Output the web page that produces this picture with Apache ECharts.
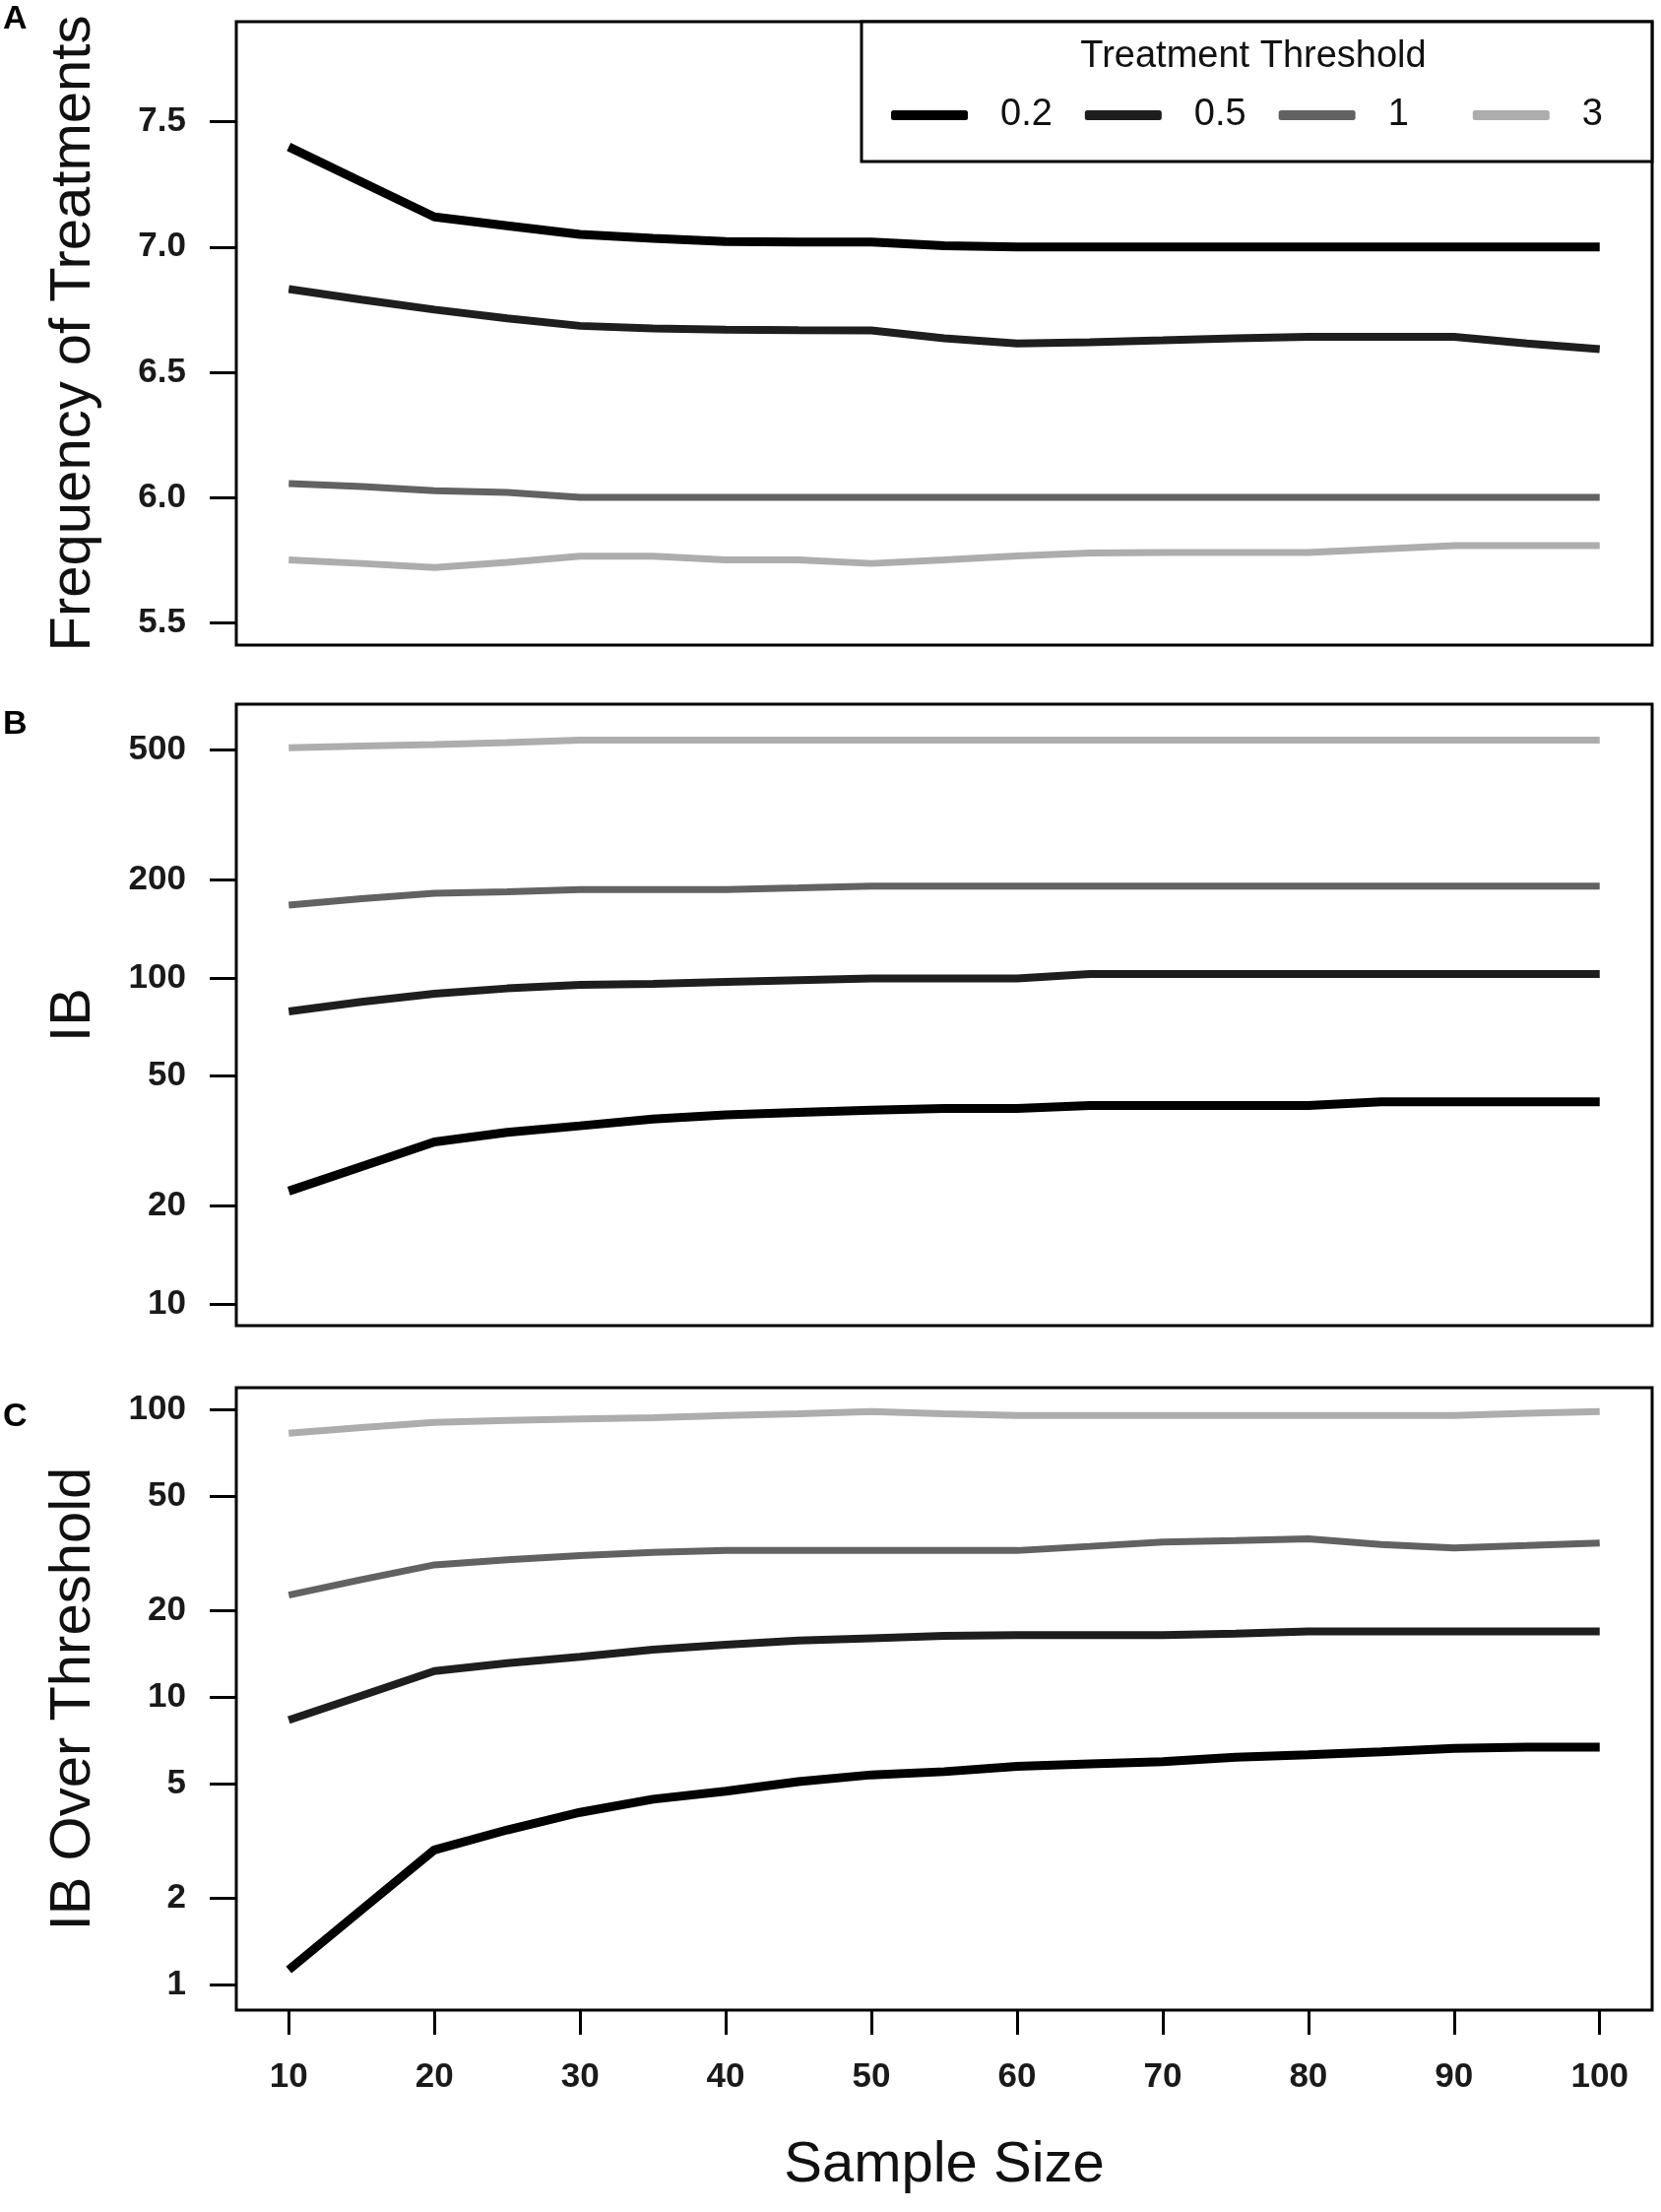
<!DOCTYPE html>
<html lang="en">
<head>
    <meta charset="UTF-8">
    <title>Treatment threshold vs sample size</title>
    <script src="https://cdn.jsdelivr.net/npm/echarts@6.0.0/dist/echarts.min.js"></script>
    <style>
        body { margin: 0; background: #fff; }
    </style>
</head>
<body>
    <div id="main" style="width: 1687px;height:2246px;"></div>
    <script type="text/javascript">
        // values, one entry per sample size
        const sampleSize = [10, 15, 20, 25, 30, 35, 40, 45, 50, 55, 60, 65, 70, 75, 80, 85, 90, 95, 100];
        const thresholds = ['0.2', '0.5', '1', '3'];

        // A: frequency of treatments
        const freq02 = [7.40, 7.26, 7.12, 7.085, 7.05, 7.035, 7.022, 7.02, 7.02, 7.005, 7.0, 7.0, 7.0, 7.0, 7.0, 7.0, 7.0, 7.0, 7.0];
        const freq05 = [6.832, 6.79, 6.75, 6.715, 6.685, 6.675, 6.67, 6.668, 6.667, 6.635, 6.615, 6.62, 6.627, 6.635, 6.641, 6.641, 6.641, 6.615, 6.592];
        const freq1 = [6.055, 6.043, 6.027, 6.02, 6.0, 6.0, 6.0, 6.0, 6.0, 6.0, 6.0, 6.0, 6.0, 6.0, 6.0, 6.0, 6.0, 6.0, 6.0];
        const freq3 = [5.75, 5.736, 5.72, 5.74, 5.765, 5.765, 5.75, 5.75, 5.736, 5.75, 5.766, 5.778, 5.78, 5.78, 5.78, 5.794, 5.807, 5.807, 5.807];

        // B: IB (log scale)
        const ib02 = [22.2, 26.4, 31.4, 33.6, 35.2, 36.9, 38.0, 38.7, 39.3, 39.8, 39.8, 40.6, 40.6, 40.6, 40.6, 41.7, 41.7, 41.7, 41.7];
        const ib05 = [79.0, 84.5, 89.5, 92.9, 95.2, 96.0, 97.3, 98.5, 99.7, 99.7, 99.7, 102.8, 102.8, 102.8, 102.8, 102.8, 102.8, 102.8, 102.8];
        const ib1 = [167.5, 175, 182, 184, 186.7, 186.7, 186.7, 189, 191.5, 191.5, 191.5, 191.5, 191.5, 191.5, 191.5, 191.5, 191.5, 191.5, 191.5];
        const ib3 = [509, 515, 520, 528, 537, 537, 537, 537, 537, 537, 537, 537, 537, 537, 537, 537, 537, 537, 537];

        // C: IB over threshold (log scale)
        const over02 = [1.125, 1.82, 2.94, 3.45, 3.97, 4.41, 4.70, 5.08, 5.36, 5.5, 5.74, 5.85, 5.96, 6.17, 6.3, 6.45, 6.62, 6.69, 6.69];
        const over05 = [8.31, 10.1, 12.3, 13.1, 13.8, 14.6, 15.2, 15.7, 16.0, 16.3, 16.4, 16.4, 16.4, 16.6, 16.9, 16.9, 16.9, 16.9, 16.9];
        const over1 = [22.6, 25.6, 28.8, 30.0, 31.0, 31.8, 32.3, 32.3, 32.3, 32.3, 32.3, 33.4, 34.6, 35.0, 35.5, 33.9, 33.0, 33.6, 34.3];
        const over3 = [82.6, 86.5, 90.1, 91.5, 92.7, 93.5, 95.3, 96.5, 98.3, 96.5, 95.3, 95.3, 95.3, 95.3, 95.3, 95.3, 95.3, 97.0, 98.3];

        // tick labels
        const xTicks = [10, 20, 30, 40, 50, 60, 70, 80, 90, 100];
        const freqTicks = [5.5, 6.0, 6.5, 7.0, 7.5];
        const ibTicks = [10, 20, 50, 100, 200, 500];
        const overTicks = [1, 2, 5, 10, 20, 50, 100];

        const font = 'Liberation Sans, Arial, sans-serif';
        const lineColors = ['#000000', '#1e1e1e', '#626262', '#adadad'];
        const lineWidths = [9, 8, 7, 7];
        // right padding so that every legend entry takes the same width
        const legendRightPad = [17, 17, 49, 49];

        let myChart = echarts.init(document.getElementById('main'));

        function panelSeries(groups, idx) {
            return groups.map((vals, k) => ({
                name: thresholds[k],
                type: 'line',
                xAxisIndex: idx,
                yAxisIndex: idx,
                data: sampleSize.map((x, i) => [x, vals[i]]),
                symbol: 'none',
                color: lineColors[k],
                itemStyle: { color: lineColors[k] },
                lineStyle: { color: lineColors[k], width: lineWidths[k] },
                animation: false
            }));
        }

        function yAxis(idx, type, min, max, ticks, name, fmt) {
            let ax = {
                type: type,
                gridIndex: idx,
                min: min,
                max: max,
                name: name,
                nameLocation: 'middle',
                nameRotate: 90,
                nameGap: 136,
                nameTextStyle: { fontSize: 58, color: '#111', fontFamily: font },
                axisLine: { show: false },
                axisTick: { show: true, length: 27, customValues: ticks, lineStyle: { color: '#000', width: 3 } },
                axisLabel: { customValues: ticks, fontSize: 35, fontWeight: 'bold', color: '#1a1a1a', margin: 51, fontFamily: font, formatter: fmt },
                splitLine: { show: false }
            };
            if (type === 'log') ax.logBase = 10;
            return ax;
        }

        const gridBox = { show: true, borderColor: '#000', borderWidth: 3, left: 240, right: 9 };

        let options = {
            backgroundColor: '#fff',
            animation: false,
            grid: [
                Object.assign({ top: 22, height: 633 }, gridBox),
                Object.assign({ top: 715, height: 631 }, gridBox),
                Object.assign({ top: 1409, height: 632 }, gridBox)
            ],
            xAxis: [
                { type: 'value', gridIndex: 0, min: 6.4, max: 103.6, show: false },
                { type: 'value', gridIndex: 1, min: 6.4, max: 103.6, show: false },
                {
                    type: 'value', gridIndex: 2, min: 6.4, max: 103.6,
                    name: 'Sample Size',
                    nameLocation: 'middle',
                    nameGap: 129,
                    nameTextStyle: { fontSize: 58, color: '#111', fontFamily: font },
                    axisLine: { show: false },
                    axisTick: { show: true, length: 25, customValues: xTicks, lineStyle: { color: '#000', width: 3 } },
                    axisLabel: { customValues: xTicks, fontSize: 35, fontWeight: 'bold', color: '#1a1a1a', margin: 51, fontFamily: font },
                    splitLine: { show: false }
                }
            ],
            yAxis: [
                yAxis(0, 'value', 5.41, 7.90, freqTicks, 'Frequency of Treatments', v => v.toFixed(1)),
                yAxis(1, 'log', 8.58, 692, ibTicks, 'IB', v => String(Math.round(v))),
                yAxis(2, 'log', 0.815, 119, overTicks, 'IB Over Threshold', v => String(Math.round(v)))
            ],
            legend: {
                data: thresholds.map((t, k) => ({
                    name: t,
                    textStyle: { padding: [0, legendRightPad[k], 0, 28] }
                })),
                left: 875,
                top: 22,
                orient: 'horizontal',
                selectedMode: false,
                icon: 'roundRect',
                itemWidth: 78,
                itemHeight: 10,
                itemGap: 16,
                padding: [75, 1, 27, 30],
                backgroundColor: '#fff',
                borderColor: '#000',
                borderWidth: 3,
                textStyle: { fontSize: 38, color: '#111', fontFamily: font, lineHeight: 40 },
                z: 10
            },
            graphic: [
                { type: 'text', x: 1273, y: 58, z: 20, style: { text: 'Treatment Threshold', font: '38px ' + font, fill: '#111', align: 'center', verticalAlign: 'middle' } },
                { type: 'text', x: 3, y: 20, style: { text: 'A', font: 'bold 34px ' + font, fill: '#000', align: 'left', verticalAlign: 'middle' } },
                { type: 'text', x: 3, y: 736, style: { text: 'B', font: 'bold 34px ' + font, fill: '#000', align: 'left', verticalAlign: 'middle' } },
                { type: 'text', x: 3, y: 1439, style: { text: 'C', font: 'bold 34px ' + font, fill: '#000', align: 'left', verticalAlign: 'middle' } }
            ],
            series: [].concat(
                panelSeries([freq02, freq05, freq1, freq3], 0),
                panelSeries([ib02, ib05, ib1, ib3], 1),
                panelSeries([over02, over05, over1, over3], 2)
            )
        };

        myChart.setOption(options);
    </script>
</body>
</html>
